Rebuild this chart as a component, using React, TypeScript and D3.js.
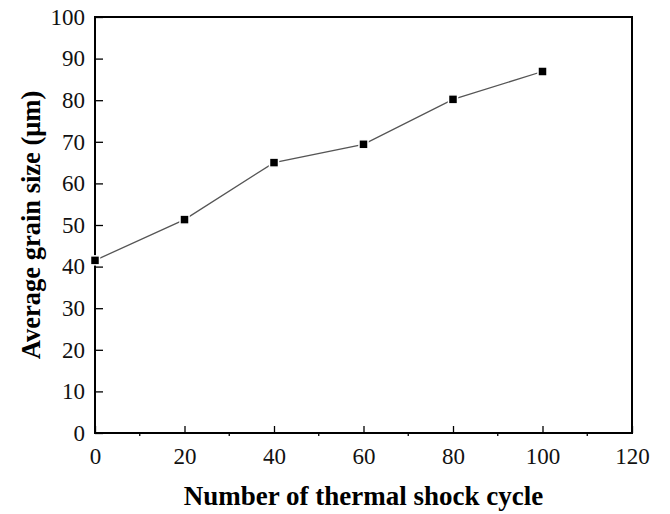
import React, { useEffect, useRef } from 'react';
import * as d3 from 'd3';

const cycles = [0, 20, 40, 60, 80, 100];
const grainSize = [41.5, 51.3, 65.0, 69.4, 80.2, 86.9];
const xTicks = [0, 20, 40, 60, 80, 100, 120];
const xMinorTicks = [10, 30, 50, 70, 90, 110];
const yTicks = [0, 10, 20, 30, 40, 50, 60, 70, 80, 90, 100];

const width = 670;
const height = 514;
const margin = { top: 17, right: 38, bottom: 81, left: 95 };

export default function App() {
  const ref = useRef<SVGSVGElement>(null);

  useEffect(() => {
    const svg = d3.select(ref.current);
    svg.selectAll('*').remove();

    const x = d3.scaleLinear().domain([0, 120]).range([margin.left, width - margin.right]);
    const y = d3.scaleLinear().domain([0, 100]).range([height - margin.bottom, margin.top]);
    const font = '"Liberation Serif", "Times New Roman", serif';

    // frame
    svg.append('rect')
      .attr('x', x(0))
      .attr('y', y(100))
      .attr('width', x(120) - x(0))
      .attr('height', y(0) - y(100))
      .attr('fill', 'none')
      .attr('stroke', '#000')
      .attr('stroke-width', 2);

    // y ticks, inward
    const yAxis = d3.axisLeft(y).tickValues(yTicks).tickSize(-8).tickPadding(10);
    const gy = svg.append('g').attr('transform', `translate(${x(0)},0)`).call(yAxis);
    gy.select('.domain').remove();
    gy.selectAll('line').attr('stroke', '#000').attr('stroke-width', 1.3);
    gy.selectAll('text')
      .attr('font-family', font)
      .attr('font-size', 23)
      .attr('fill', '#111');

    // x major ticks inward
    const xAxis = d3.axisBottom(x).tickValues(xTicks).tickSize(-7).tickPadding(15);
    const gx = svg.append('g').attr('transform', `translate(0,${y(0)})`).call(xAxis);
    gx.select('.domain').remove();
    gx.selectAll('line').attr('stroke', '#000').attr('stroke-width', 1.3);
    gx.selectAll('text')
      .attr('font-family', font)
      .attr('font-size', 23)
      .attr('fill', '#111');

    // x minor ticks outward
    svg.append('g')
      .selectAll('line')
      .data(xMinorTicks)
      .join('line')
      .attr('x1', d => x(d))
      .attr('x2', d => x(d))
      .attr('y1', y(0))
      .attr('y2', y(0) + 3)
      .attr('stroke', '#000')
      .attr('stroke-width', 1.3);

    const pts = cycles.map((c, i) => [c, grainSize[i]] as [number, number]);
    const line = d3.line<[number, number]>().x(d => x(d[0])).y(d => y(d[1]));

    svg.append('path')
      .attr('d', line(pts))
      .attr('fill', 'none')
      .attr('stroke', '#555')
      .attr('stroke-width', 1.3);

    svg.append('g')
      .selectAll('rect')
      .data(pts)
      .join('rect')
      .attr('x', d => x(d[0]) - 4.5)
      .attr('y', d => y(d[1]) - 4.5)
      .attr('width', 9)
      .attr('height', 9)
      .attr('fill', '#000')
      .attr('stroke', '#fff')
      .attr('stroke-width', 1.5);

    svg.append('text')
      .attr('x', (x(0) + x(120)) / 2)
      .attr('y', 505)
      .attr('text-anchor', 'middle')
      .attr('font-family', font)
      .attr('font-weight', 'bold')
      .attr('font-size', 27)
      .attr('fill', '#000')
      .text('Number of thermal shock cycle');

    svg.append('text')
      .attr('transform', `translate(40,${(y(0) + y(100)) / 2}) rotate(-90)`)
      .attr('text-anchor', 'middle')
      .attr('font-family', font)
      .attr('font-weight', 'bold')
      .attr('font-size', 26.5)
      .attr('fill', '#000')
      .text('Average grain size (μm)');
  }, []);

  return (
    <svg
      ref={ref}
      width={width}
      height={height}
      style={{ position: 'absolute', left: 0, top: 0, background: '#fff' }}
    />
  );
}
